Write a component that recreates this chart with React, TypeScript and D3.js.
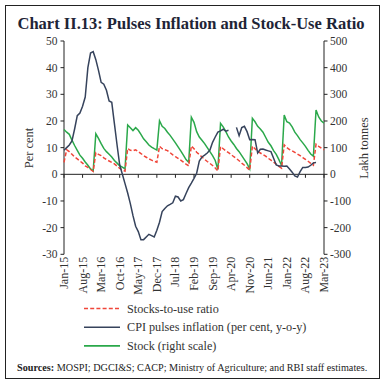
import React from 'react';
import * as d3 from 'd3';

const stockToUse: number[] = [
  4.5, 9.2, 8.5, 7.5, 6.5, 5.8, 5.0, 4.2, 3.2, 2.6, 1.8, 1.1,
  8.1, 7.5, 7.0, 6.2, 5.5, 5.0, 4.5, 3.9, 3.1, 2.2, 1.6, 1.2,
  9.7, 9.0, 8.8, 9.2, 8.5, 7.8, 7.0, 6.4, 5.8, 5.3, 4.9, 4.5,
  10.5, 9.6, 9.2, 8.9, 8.1, 7.3, 6.6, 6.0, 5.3, 4.6, 3.8, 3.2,
  10.6, 9.6, 8.3, 7.4, 6.5, 5.6, 4.8, 4.1, 3.3, 2.4, 1.3,
  10.4, 9.6, 8.8, 8.1, 7.4, 6.6, 5.9, 5.1, 4.2, 3.4, 2.5, 1.5,
  10.6, 9.6, 8.6, 8.0, 7.4, 6.8, 6.0, 5.3, 4.6, 3.8, 3.0, 2.3,
  11.0, 10.0, 9.3, 8.8, 8.2, 7.6, 7.0, 6.3, 5.6, 4.9, 4.1, 3.4,
  11.3, 10.5, 9.8, 9.2,
];

const cpiInflation: (number | null)[] = [
  9, 10, 11, 12.5, 17, 22, 23, 25.5, 29, 40, 45.5, 46,
  43, 39, 34.5, 33.8, 31.5, 27.5, 27, 19, 11, 3.5, 0, -3.5,
  -7, -11, -15.5, -19.5, -21.5, -24.5, -24.5, -23.5, -22.5, -23, -23.5, -21,
  -18, -14, -12.8, -11.8, -11.3, -10.7, -8.2, -8.5, -10, -9.5, -7.2, -5,
  -3.3, -1.5, 0.4, 5, 6.5, 7.2, 8, 9.1, 12, 14, 15.8, 16.3,
  16.9, 16.2, 16.5, null, null, 17.6, 14.5, 17.5, 18, 16, 13, 13.1,
  13, 8, 9.4, 9.5, 9.1, 8.8, 8.5, 6, 3.5, 3.1, 3.1, 3,
  3.1, 2, 0.8, -0.6, -1, 1, 2.6, 2.6, 2.7, 3.4, 4.3, 4.4,
];

const stock: number[] = [
  168, 158, 150, 128, 108, 90, 72, 60, 46, 34, 20, 13,
  152, 135, 115, 97, 85, 75, 65, 52, 42, 32, 27, 20,
  185, 175, 164, 175, 165, 150, 133, 122, 110, 102, 96, 91,
  201, 180, 172, 158, 146, 132, 118, 103, 88, 72, 55, 45,
  214, 195, 160, 140, 128, 115, 100, 85, 70, 52, 18,
  191, 178, 160, 140, 125, 112, 97, 85, 70, 55, 40, 20,
  210, 197, 180, 170, 158, 139, 120, 107, 89, 75, 55, 33,
  222, 197, 192, 178, 158, 145, 130, 118, 105, 90, 76, 68,
  241, 215, 200, 192,
];

const tickLabels = ['Jan-15', 'Aug-15', 'Mar-16', 'Oct-16', 'May-17', 'Dec-17', 'Jul-18', 'Feb-19', 'Sep-19', 'Apr-20', 'Nov-20', 'Jun-21', 'Jan-22', 'Aug-22', 'Mar-23'];
const tickMonths = [0, 7, 14, 21, 28, 35, 42, 49, 56, 63, 70, 77, 84, 91, 98];
const leftTicks = [50, 40, 30, 20, 10, 0, -10, -20, -30];
const rightTicks = [500, 400, 300, 200, 100, 0, -100, -200, -300];

const legendItems = [
  { label: 'Stocks-to-use ratio', color: '#f0463a', dash: '4,2.2' },
  { label: 'CPI pulses inflation (per cent, y-o-y)', color: '#36435c', dash: '' },
  { label: 'Stock (right scale)', color: '#2aa84a', dash: '' },
];

const FONT = '"Liberation Serif", "DejaVu Serif", serif';

export default function App() {
  const L = 64, R = 324, T = 41, B = 254.3;
  const x = d3.scaleLinear().domain([0, 98]).range([L, R]);
  const yL = d3.scaleLinear().domain([-30, 50]).range([B, T]);
  const yR = d3.scaleLinear().domain([-300, 500]).range([B, T]);

  const lineL = d3.line<number>().x((_, i) => x(i)).y(d => yL(d));
  const lineR = d3.line<number>().x((_, i) => x(i)).y(d => yR(d));
  const lineCpi = d3.line<number | null>()
    .defined(d => d !== null)
    .x((_, i) => x(i))
    .y(d => yL(d as number));

  const y0 = yL(0);

  return (
    <svg width={385} height={386} style={{ position: 'absolute', left: 0, top: 0, background: '#fff' }} fontFamily={FONT}>
      <rect x={5.5} y={5.5} width={374} height={373} fill="#fff" stroke="#222" strokeWidth={1} />
      <text x={191} y={29} textAnchor="middle" fontSize={16.5} fontWeight="bold" fill="#1e2436">
        Chart II.13: Pulses Inflation and Stock-Use Ratio
      </text>

      {/* axes */}
      <line x1={L} x2={L} y1={T} y2={B} stroke="#222" strokeWidth={1} />
      <line x1={R} x2={R} y1={T} y2={B} stroke="#222" strokeWidth={1} />
      <line x1={L} x2={R} y1={y0} y2={y0} stroke="#222" strokeWidth={1} />
      {leftTicks.map(t => (
        <g key={'l' + t}>
          <line x1={L - 3.5} x2={L} y1={yL(t)} y2={yL(t)} stroke="#222" />
          <text x={57.5} y={yL(t)} dy="0.35em" textAnchor="end" fontSize={11.5} fill="#333">{t}</text>
        </g>
      ))}
      {rightTicks.map(t => (
        <g key={'r' + t}>
          <line x1={R} x2={R + 3.5} y1={yR(t)} y2={yR(t)} stroke="#222" />
          <text x={330} y={yR(t)} dy="0.35em" textAnchor="start" fontSize={11.5} fill="#333">{t}</text>
        </g>
      ))}
      {tickMonths.map((m, i) => (
        <g key={'x' + m}>
          <line x1={x(m)} x2={x(m)} y1={y0} y2={y0 + 3.5} stroke="#222" />
          <text transform={`translate(${x(m) + 4},${B + 2.5}) rotate(-90)`} textAnchor="end" fontSize={12} fill="#333">
            {tickLabels[i]}
          </text>
        </g>
      ))}
      <text transform="translate(33,148) rotate(-90)" textAnchor="middle" fontSize={12.5} fill="#333">Per cent</text>
      <text transform="translate(368,148) rotate(-90)" textAnchor="middle" fontSize={12.5} fill="#333">Lakh tonnes</text>

      {/* series */}
      <path d={lineR(stock) || ''} fill="none" stroke="#2aa84a" strokeWidth={1.5} />
      <path d={lineL(stockToUse) || ''} fill="none" stroke="#f0463a" strokeWidth={1.5} strokeDasharray="4,2.2" />
      <path d={lineCpi(cpiInflation) || ''} fill="none" stroke="#36435c" strokeWidth={1.5} />

      {/* legend */}
      {legendItems.map((it, i) => {
        const yy = 308.5 + i * 18.7;
        return (
          <g key={it.label}>
            <line x1={84} x2={120} y1={yy} y2={yy} stroke={it.color} strokeWidth={1.6} strokeDasharray={it.dash || undefined} />
            <text x={127} y={yy} dy="0.35em" fontSize={12.2} fill="#333">{it.label}</text>
          </g>
        );
      })}
      <text x={17} y={367} dy="0.35em" fontSize={10.2} fill="#222">
        <tspan fontWeight="bold">Sources:</tspan> MOSPI; DGCI&amp;S; CACP; Ministry of Agriculture; and RBI staff estimates.
      </text>
    </svg>
  );
}
